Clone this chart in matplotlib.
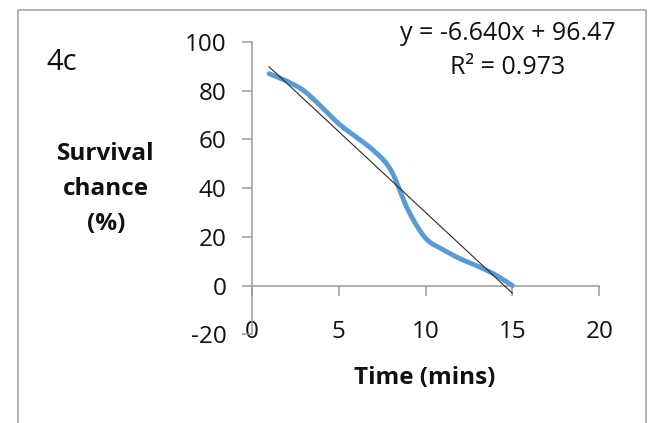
import numpy as np
import matplotlib
matplotlib.use("Agg")
import matplotlib.pyplot as plt
from matplotlib.patches import Rectangle

# ---- data ----
time_min = [1, 2, 3, 4, 5, 6, 7, 8, 9, 10, 11, 12, 13, 14, 15]
survival = [87, 84, 80, 73.5, 66.5, 61, 55.5, 47.5, 31, 19.5, 14.8, 11, 8, 4.5, 0]
trend_slope = -6.640
trend_intercept = 96.47
r_squared = 0.973
x_ticks = [0, 5, 10, 15, 20]
y_ticks = [-20, 0, 20, 40, 60, 80, 100]
panel_label = "4c"

FONT = "Open Sans"
plt.rcParams["font.family"] = [FONT, "DejaVu Sans"]
plt.rcParams["axes.unicode_minus"] = False


def smooth_curve(xs, ys, n=30):
    """Excel-style smoothed line (Catmull-Rom / Bezier through the points)."""
    p = np.column_stack([xs, ys]).astype(float)
    p_ext = np.vstack([p[0], p, p[-1]])
    out = []
    for i in range(1, len(p_ext) - 2):
        p0, p1, p2, p3 = p_ext[i - 1], p_ext[i], p_ext[i + 1], p_ext[i + 2]
        c1 = p1 + (p2 - p0) / 6.0
        c2 = p2 - (p3 - p1) / 6.0
        t = np.linspace(0, 1, n)[:, None]
        seg = ((1 - t) ** 3) * p1 + 3 * ((1 - t) ** 2) * t * c1 + 3 * (1 - t) * t ** 2 * c2 + t ** 3 * p2
        out.append(seg if i == 1 else seg[1:])
    out = np.vstack(out)
    return out[:, 0], out[:, 1]


fig = plt.figure(figsize=(6.54, 4.23), dpi=100)
fig.patch.set_facecolor("white")

# outer chart border
fig.patches.append(Rectangle((18 / 654, -0.05), (646 - 18) / 654, 1.05 - 10 / 423,
                             transform=fig.transFigure, fill=False,
                             edgecolor="#b0b0b0", linewidth=1.3))

ax = fig.add_axes([251.7 / 654, 1 - 334.3 / 423, (599.3 - 251.7) / 654, (334.3 - 42) / 423])
ax.set_xlim(x_ticks[0], x_ticks[-1])
ax.set_ylim(y_ticks[0], y_ticks[-1])
ax.patch.set_alpha(0)

axis_color = "#9a9a9a"
txt_color = "#111111"
TICK_FS = 17.5
for s in ["top", "right"]:
    ax.spines[s].set_visible(False)
ax.spines["left"].set_position(("data", 0))
ax.spines["bottom"].set_position(("data", 0))
ax.spines["left"].set_color(axis_color)
ax.spines["bottom"].set_color(axis_color)
ax.spines["left"].set_linewidth(1.1)
ax.spines["bottom"].set_linewidth(1.1)

ax.set_xticks(x_ticks)
ax.set_yticks(y_ticks)
ax.tick_params(axis="x", direction="out", length=7, width=1.1, color=axis_color,
               labelbottom=False)
ax.tick_params(axis="y", direction="out", length=7, width=1.1, color=axis_color,
               labelsize=TICK_FS, pad=11, labelcolor=txt_color)

# x tick labels at the low position
sec = ax.secondary_xaxis(location=0)
sec.set_xticks(x_ticks)
sec.spines["bottom"].set_visible(False)
sec.tick_params(axis="x", length=0, labelsize=TICK_FS, pad=-10, labelcolor=txt_color)

# data line
sx, sy = smooth_curve(time_min, survival)
ax.plot(sx, sy, color="#5B9BD5", linewidth=3.5, solid_capstyle="round", zorder=3)

# linear trendline
tx = np.array([time_min[0], time_min[-1]], dtype=float)
ax.plot(tx, trend_slope * tx + trend_intercept, color="#2b2b2b", linewidth=0.8, zorder=4)

# texts
fig.text(508 / 654, 1 - 33 / 423, f"y = {trend_slope:.3f}x + {trend_intercept:.2f}",
         ha="center", va="center", fontsize=18, color=txt_color)
fig.text(508 / 654, 1 - 67 / 423, f"R\u00b2 = {r_squared:.3f}",
         ha="center", va="center", fontsize=18, color=txt_color)
fig.text(62 / 654, 1 - 62 / 423, panel_label, ha="center", va="center",
         fontsize=21, fontweight="medium", color=txt_color)
fig.text(106 / 654, 1 - 189 / 423, "Survival\nchance\n(%)", ha="center", va="center",
         fontsize=17.5, fontweight="bold", linespacing=1.62, color=txt_color)
fig.text(425 / 654, 1 - 378 / 423, "Time (mins)", ha="center", va="center",
         fontsize=17.5, fontweight="bold", color=txt_color)

fig.savefig("out.png", dpi=100, facecolor="white")
